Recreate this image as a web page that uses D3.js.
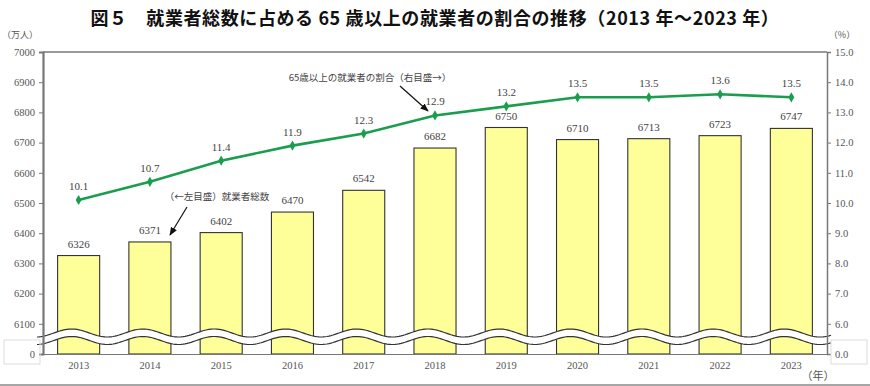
<!DOCTYPE html>
<html>
<head>
<meta charset="utf-8">
<script src="https://cdn.jsdelivr.net/npm/d3@7"></script>
<style>
  body { margin: 0; background: #fff; }
  svg { display: block; }
  .ax text { font-family: "Liberation Serif", serif; font-size: 10.5px; fill: #555; }
  .ax path, .ax line { stroke: #777; }
</style>
</head>
<body>
<svg id="chart" width="870" height="386"></svg>
<script>
const years = ['2013', '2014', '2015', '2016', '2017', '2018', '2019', '2020', '2021', '2022', '2023'];
const workers = [6326, 6371, 6402, 6470, 6542, 6682, 6750, 6710, 6713, 6723, 6747];
const elderShare = [10.1, 10.7, 11.4, 11.9, 12.3, 12.9, 13.2, 13.5, 13.5, 13.6, 13.5];
const leftTicks = [6000, 6100, 6200, 6300, 6400, 6500, 6600, 6700, 6800, 6900, 7000];
const rightTicks = [5, 6, 7, 8, 9, 10, 11, 12, 13, 14, 15];

const svg = d3.select('#chart');
const plotLeft = 43, plotRight = 827, plotTop = 52, plotBottom = 354;
const serif = '"Liberation Serif", serif';
const jpFont = '"Noto Sans CJK JP", sans-serif';

const xs = d3.scaleBand().domain(years).range([plotLeft, plotRight]).paddingInner(0.41).paddingOuter(0.205);
const yl = d3.scaleLinear().domain([6000, 7000]).range([plotBottom, plotTop]);
const yr = d3.scaleLinear().domain([5, 15]).range([plotBottom, plotTop]);
const cx = (i) => xs(years[i]) + xs.bandwidth() / 2;

// title
svg.append('text')
    .attr('x', 435).attr('y', 25)
    .attr('text-anchor', 'middle')
    .attr('font-family', jpFont)
    .attr('font-weight', 'bold')
    .attr('font-size', 18)
    .attr('letter-spacing', 0.6)
    .attr('fill', '#111')
    .text('図５　就業者総数に占める 65 歳以上の就業者の割合の推移（2013 年～2023 年）');

// top frame line
svg.append('line').attr('x1', plotLeft).attr('x2', plotRight).attr('y1', plotTop).attr('y2', plotTop)
    .attr('stroke', '#777').attr('stroke-width', 1.5);

// bars
svg.append('g').selectAll('rect')
    .data(workers)
    .enter()
    .append('rect')
    .attr('x', (d, i) => xs(years[i]))
    .attr('width', xs.bandwidth())
    .attr('y', d => yl(d))
    .attr('height', d => plotBottom - yl(d))
    .attr('fill', '#ffff99')
    .attr('stroke', '#333')
    .attr('stroke-width', 1.1);

svg.append('g').selectAll('text')
    .data(workers)
    .enter()
    .append('text')
    .attr('x', (d, i) => cx(i))
    .attr('y', d => yl(d) - 8)
    .attr('text-anchor', 'middle')
    .attr('font-family', serif).attr('font-size', 11).attr('fill', '#444')
    .text(d => d);

// axis break (two wavy lines with white band between)
const step = xs.step();
const c0 = cx(0) - 7;
const waveY = (x, base) => base - 4 * Math.cos((x - c0) / step * 2 * Math.PI);
const xsamp = d3.range(37, 832, 2);
const upper = xsamp.map(x => [x, waveY(x, 333)]);
const lower = xsamp.map(x => [x, waveY(x, 340.5)]);
svg.append('path')
    .attr('d', d3.area().x(d => d[0]).y0((d, i) => lower[i][1]).y1(d => d[1])(upper))
    .attr('fill', '#fff');
[upper, lower].forEach(pts => {
    svg.append('path')
        .attr('d', d3.line()(pts))
        .attr('fill', 'none').attr('stroke', '#333').attr('stroke-width', 1.2);
});

// axes
const la = svg.append('g').attr('class', 'ax').attr('transform', `translate(${plotLeft},0)`)
    .call(d3.axisLeft(yl).tickValues(leftTicks).tickSize(4).tickPadding(4)
        .tickFormat(d => d === 6000 ? '0' : d));
la.select('.domain').attr('stroke-width', 2.2);
la.selectAll('.tick').filter(d => d === 6000).select('line').remove();

const ra = svg.append('g').attr('class', 'ax').attr('transform', `translate(${plotRight},0)`)
    .call(d3.axisRight(yr).tickValues(rightTicks).tickSize(4).tickPadding(4)
        .tickFormat(d => d === 5 ? '0.0' : d.toFixed(1)));
ra.select('.domain').attr('stroke-width', 1.5);
ra.selectAll('.tick').filter(d => d === 5).select('line').remove();

const ba = svg.append('g').attr('class', 'ax').attr('transform', `translate(0,${plotBottom})`)
    .call(d3.axisBottom(xs).tickSize(0).tickPadding(8));
ba.select('.domain').attr('stroke', '#333').attr('stroke-width', 1.2);

// break label boxes
svg.append('rect').attr('x', 4).attr('y', 340).attr('width', 36).attr('height', 24)
    .attr('fill', 'none').attr('stroke', '#ddd');
svg.append('rect').attr('x', 831).attr('y', 340).attr('width', 36).attr('height', 24)
    .attr('fill', 'none').attr('stroke', '#ddd');

// units
svg.append('text').attr('x', 20).attr('y', 38).attr('text-anchor', 'middle')
    .attr('font-family', jpFont).attr('font-size', 9).attr('fill', '#555').text('（万人）');
svg.append('text').attr('x', 842).attr('y', 38).attr('text-anchor', 'middle')
    .attr('font-family', jpFont).attr('font-size', 9).attr('fill', '#555').text('（%）');
svg.append('text').attr('x', 818).attr('y', 380).attr('text-anchor', 'middle')
    .attr('font-family', jpFont).attr('font-size', 11).attr('fill', '#555').text('（年）');

// line
const lineGen = d3.line().x((d, i) => cx(i)).y(d => yr(d));
svg.append('path').attr('d', lineGen(elderShare))
    .attr('fill', 'none').attr('stroke', '#1a9e4e').attr('stroke-width', 2.6);
svg.append('g').selectAll('path')
    .data(elderShare)
    .enter()
    .append('path')
    .attr('d', d3.symbol(d3.symbolDiamond, 30))
    .attr('transform', (d, i) => `translate(${cx(i)},${yr(d)})`)
    .attr('fill', '#1a9e4e');
svg.append('g').selectAll('text')
    .data(elderShare)
    .enter()
    .append('text')
    .attr('x', (d, i) => cx(i))
    .attr('y', d => yr(d) - 10)
    .attr('text-anchor', 'middle')
    .attr('font-family', serif).attr('font-size', 11).attr('fill', '#444')
    .text(d => d.toFixed(1));

// annotations
svg.append('defs').append('marker')
    .attr('id', 'arr').attr('viewBox', '0 0 10 10').attr('refX', 9).attr('refY', 5)
    .attr('markerWidth', 7).attr('markerHeight', 7).attr('orient', 'auto')
    .append('path').attr('d', 'M0,1 L10,5 L0,9 Z').attr('fill', '#111');

svg.append('text').attr('x', 370).attr('y', 81).attr('text-anchor', 'middle')
    .attr('font-family', jpFont).attr('font-size', 9.5).attr('fill', '#444')
    .text('65歳以上の就業者の割合（右目盛→）');
svg.append('line').attr('x1', 400).attr('y1', 86).attr('x2', 428).attr('y2', 111)
    .attr('stroke', '#111').attr('stroke-width', 1.2).attr('marker-end', 'url(#arr)');

svg.append('text').attr('x', 217).attr('y', 200).attr('text-anchor', 'middle')
    .attr('font-family', jpFont).attr('font-size', 9.5).attr('fill', '#444')
    .text('（←左目盛）就業者総数');
svg.append('line').attr('x1', 187).attr('y1', 207).attr('x2', 170).attr('y2', 235)
    .attr('stroke', '#111').attr('stroke-width', 1.2).attr('marker-end', 'url(#arr)');

// bottom frame line
svg.append('line').attr('x1', 0).attr('x2', 870).attr('y1', 385).attr('y2', 385)
    .attr('stroke', '#888').attr('stroke-width', 1.5);
</script>
</body>
</html>
